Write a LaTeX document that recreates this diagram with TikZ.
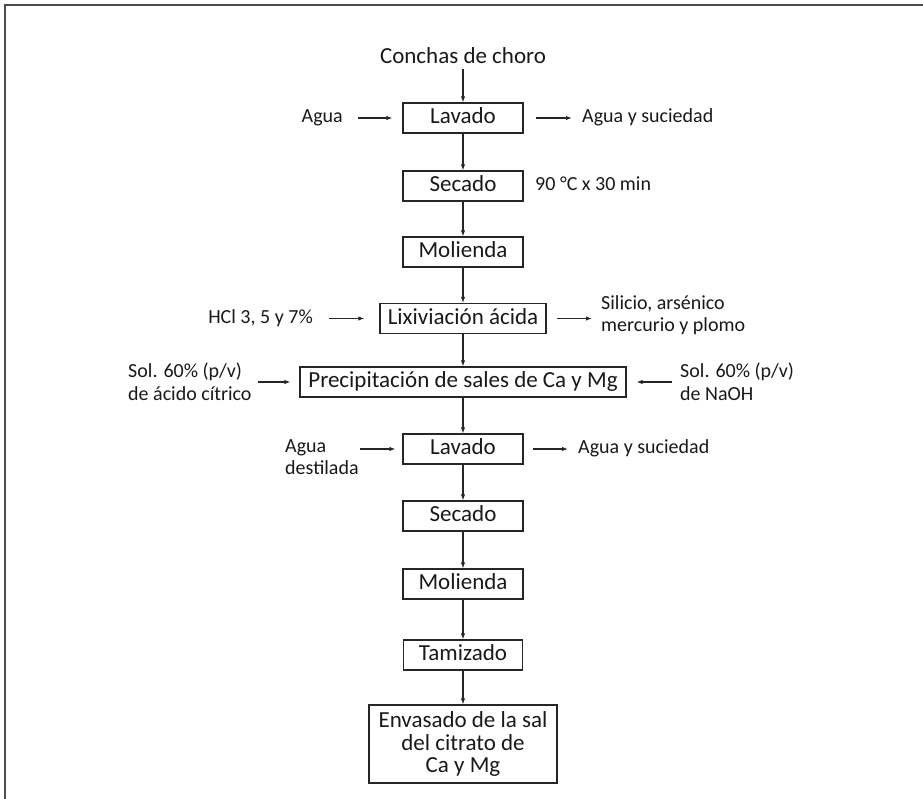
\documentclass[tikz,border=0pt]{standalone}
\usepackage{fontspec}
\setmainfont{Carlito}
\usetikzlibrary{arrows.meta}
\begin{document}
\begin{tikzpicture}[x=1pt,y=-1pt,
  base/.style={draw=black!85, line width=1.3pt, font=\fontsize{23}{22.5}\selectfont, inner sep=0pt, text=black!90},
  box/.style={base, text height=16pt, text depth=5pt, minimum height=30pt},
  sbox/.style={box, minimum width=120pt},
  lbl/.style={font=\fontsize{20}{22.5}\selectfont, inner sep=0pt, text=black!90},
  lbl1/.style={lbl, text height=14pt, text depth=4.5pt},
  arr/.style={draw=black!85, line width=1.1pt, -{Latex[length=6pt,width=4.5pt]}},
]
\useasboundingbox (0,0) rectangle (923,799);
\draw[black!70, line width=2pt] (5,799) -- (5,5) -- (923,5);

% main column
\node[box, draw=none, minimum height=0pt] (src) at (463,58) {Conchas de choro};
\node[sbox] (lav1) at (463,118) {Lavado};
\node[sbox] (sec1) at (463,186) {Secado};
\node[sbox] (mol1) at (463,252) {Molienda};
\node[box, minimum width=166pt] (lix) at (463,318.5) {Lixiviación ácida};
\node[box, minimum width=326pt] (prec) at (463,382) {Precipitación de sales de Ca y Mg};
\node[sbox] (lav2) at (463,449) {Lavado};
\node[sbox] (sec2) at (463,516) {Secado};
\node[sbox] (mol2) at (463,584) {Molienda};
\node[sbox, minimum width=119pt] (tam) at (463,655) {Tamizado};
\node[base, align=center, minimum width=188pt, minimum height=78pt] (env) at (463,744) {Envasado de la sal\\del citrato de\\Ca y Mg};

\draw[arr] (src) -- (lav1);
\draw[arr] (lav1) -- (sec1);
\draw[arr] (sec1) -- (mol1);
\draw[arr] (mol1) -- (lix);
\draw[arr] (lix) -- (prec);
\draw[arr] (prec) -- (lav2);
\draw[arr] (lav2) -- (sec2);
\draw[arr] (sec2) -- (mol2);
\draw[arr] (mol2) -- (tam);
\draw[arr] (tam) -- (env);

% row Lavado 1
\node[lbl1, anchor=east] (w1) at (343,118) {Agua};
\node[lbl1, anchor=west] (o1) at (582,118) {Agua y suciedad};
\draw[arr, shorten <=15pt, shorten >=10pt] (w1) -- (lav1);
\draw[arr, shorten <=12pt, shorten >=10pt] (lav1) -- (o1);

% row Secado 1
\node[lbl1, anchor=west] (t1) at (535,186) {90 °C x 30 min};

% row Lixiviacion
\node[lbl1, anchor=east] (hcl) at (313,318.5) {HCl 3, 5 y 7\%};
\draw[arr, shorten <=16pt, shorten >=15pt] (hcl) -- (lix);
\node[lbl, anchor=west, align=left] (sil) at (601,315) {Silicio, arsénico\\mercurio y plomo};
\draw[arr, shorten <=10pt, shorten >=9pt] (lix.east) -- (lix.east -| sil.west);

% row Precipitacion
\node[lbl, anchor=west, align=left] (citl) at (128,382) {Sol. 60\% (p/v)\\de ácido cítrico};
\draw[arr, shorten <=6pt, shorten >=9pt] (citl.east |- prec.west) -- (prec.west);
\node[lbl, anchor=west, align=left] (naoh) at (680,382) {Sol. 60\% (p/v)\\de NaOH};
\draw[arr, shorten <=8pt, shorten >=10pt] (naoh.west |- prec.east) -- (prec.east);

% row Lavado 2
\node[lbl, anchor=west, align=left] (w2) at (285,457) {Agua\\destilada};
\draw[arr, shorten <=1pt, shorten >=7pt] (w2.east |- lav2.west) -- (lav2.west);
\node[lbl1, anchor=west] (o2) at (578,449) {Agua y suciedad};
\draw[arr, shorten <=9pt, shorten >=10pt] (lav2) -- (o2);
\end{tikzpicture}
\end{document}
